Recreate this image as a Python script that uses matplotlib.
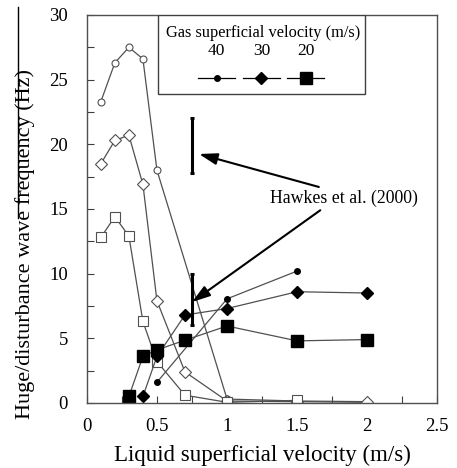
import matplotlib
matplotlib.use("Agg")
import matplotlib.pyplot as plt
from matplotlib.lines import Line2D
from matplotlib.patches import Rectangle
from matplotlib.ticker import MultipleLocator

plt.rcParams['font.family'] = ['Liberation Serif', 'DejaVu Serif']

# open symbols (upper-left branch)
x_open_40 = [0.1, 0.2, 0.3, 0.4, 0.5, 1.0, 1.5, 2.0]
y_open_40 = [23.3, 26.3, 27.5, 26.6, 18.0, 0.3, 0.15, 0.1]
x_open_30 = [0.1, 0.2, 0.3, 0.4, 0.5, 0.7, 1.0, 1.5, 2.0]
y_open_30 = [18.5, 20.3, 20.7, 16.9, 7.9, 2.4, 0.15, 0.1, 0.05]
x_open_20 = [0.1, 0.2, 0.3, 0.4, 0.5, 0.7, 1.0, 1.5]
y_open_20 = [12.8, 14.4, 12.9, 6.3, 3.2, 0.6, 0.05, 0.2]

# filled symbols
x_fill_40 = [0.5, 1.0, 1.5]
y_fill_40 = [1.6, 8.05, 10.2]
x_fill_30 = [0.4, 0.5, 0.7, 1.0, 1.5, 2.0]
y_fill_30 = [0.5, 3.6, 6.8, 7.3, 8.6, 8.5]
x_fill_20 = [0.3, 0.4, 0.5, 0.7, 1.0, 1.5, 2.0]
y_fill_20 = [0.5, 3.6, 4.1, 4.85, 5.95, 4.8, 4.9]

# Hawkes et al. (2000) ranges
hawkes_x = [0.75, 0.75]
hawkes_lo = [17.8, 6.0]
hawkes_hi = [22.0, 10.0]
hawkes_label = "Hawkes et al. (2000)"

legend_title = "Gas superficial velocity (m/s)"
legend_labels = ["40", "30", "20"]

line_c = '#505050'
fig = plt.figure(figsize=(4.57, 4.68), dpi=100)
ax = fig.add_axes([0.190, 0.139, 0.767, 0.829])

ax.plot(x_open_40, y_open_40, '-o', color=line_c, lw=0.9, ms=5, mfc='white', mec=line_c, mew=0.8)
ax.plot(x_open_30, y_open_30, '-D', color=line_c, lw=0.9, ms=6, mfc='white', mec=line_c, mew=0.8)
ax.plot(x_open_20, y_open_20, '-s', color=line_c, lw=0.9, ms=7.5, mfc='white', mec=line_c, mew=0.8)

ax.plot(x_fill_40, y_fill_40, '-o', color=line_c, lw=0.9, ms=4, mfc='black', mec='black')
ax.plot(x_fill_30, y_fill_30, '-D', color=line_c, lw=0.9, ms=6.5, mfc='black', mec='black')
ax.plot(x_fill_20, y_fill_20, '-s', color=line_c, lw=0.9, ms=8, mfc='black', mec='black')

for xh, lo, hi in zip(hawkes_x, hawkes_lo, hawkes_hi):
    ax.errorbar([xh], [(lo + hi) / 2], yerr=[(hi - lo) / 2], fmt='none',
                ecolor='black', elinewidth=2.2, capsize=1.5, capthick=2.2)

ax.text(1.305, 15.8, hawkes_label, fontsize=12.8, va='center', ha='left')
arrow = dict(arrowstyle='-|>,head_length=1.1,head_width=0.35', color='black', lw=1.5,
             shrinkA=0, shrinkB=0)
ax.annotate('', xy=(0.80, 19.25), xytext=(1.655, 16.7), arrowprops=arrow)
ax.annotate('', xy=(0.75, 7.8), xytext=(1.665, 14.9), arrowprops=arrow)

# legend box drawn by hand (labels above markers)
tr = ax.transAxes
ax.add_patch(Rectangle((0.2026, 0.7956), 0.5904, 0.2044, transform=tr,
                       facecolor='white', edgecolor='#404040', lw=1.0, zorder=5))
ax.text(0.5036, 0.9536, legend_title, transform=tr, fontsize=11.8,
        ha='center', va='center', zorder=6)
leg_x = [0.370, 0.498, 0.624]
leg_style = [('o', 4), ('D', 6.5), ('s', 8)]
for lx, lab, (mk, ms) in zip(leg_x, legend_labels, leg_style):
    ax.text(lx, 0.907, lab, transform=tr, fontsize=12.5, ha='center', va='center', zorder=6)
    ax.plot([lx - 0.052, lx + 0.052], [0.8376, 0.8376], transform=tr, color='black',
            lw=0.9, zorder=6)
    ax.plot([lx], [0.8376], transform=tr, marker=mk, ms=ms, color='black', zorder=7)

ax.set_xlim(0, 2.5)
ax.set_ylim(0, 30)
ax.xaxis.set_major_locator(MultipleLocator(0.5))
ax.xaxis.set_minor_locator(MultipleLocator(0.25))
ax.yaxis.set_major_locator(MultipleLocator(5))
ax.yaxis.set_minor_locator(MultipleLocator(2.5))
ax.set_xticks([0, 0.5, 1, 1.5, 2, 2.5])
ax.set_xticklabels(["0", "0.5", "1", "1.5", "2", "2.5"])
ax.tick_params(which='both', direction='in', length=5, width=0.8, color='#404040',
               labelsize=13.5, top=False, right=False)
ax.tick_params(axis='x', pad=10.5)
ax.tick_params(axis='y', pad=13.5)
for s in ax.spines.values():
    s.set_color('#505050')
    s.set_linewidth(1.0)

ax.set_xlabel("Liquid superficial velocity (m/s)", fontsize=16.5)
ax.xaxis.set_label_coords(0.5, -0.108)
ax.set_ylabel("Huge/disturbance wave frequency (Hz)", fontsize=16)
ax.yaxis.set_label_coords(-0.148, 0.41)

# scanning artefact line at top-left
fig.add_artist(Line2D([0.039, 0.039], [0.985, 0.534], transform=fig.transFigure,
                      color='black', lw=1.0))

fig.savefig("out.png", dpi=100)
